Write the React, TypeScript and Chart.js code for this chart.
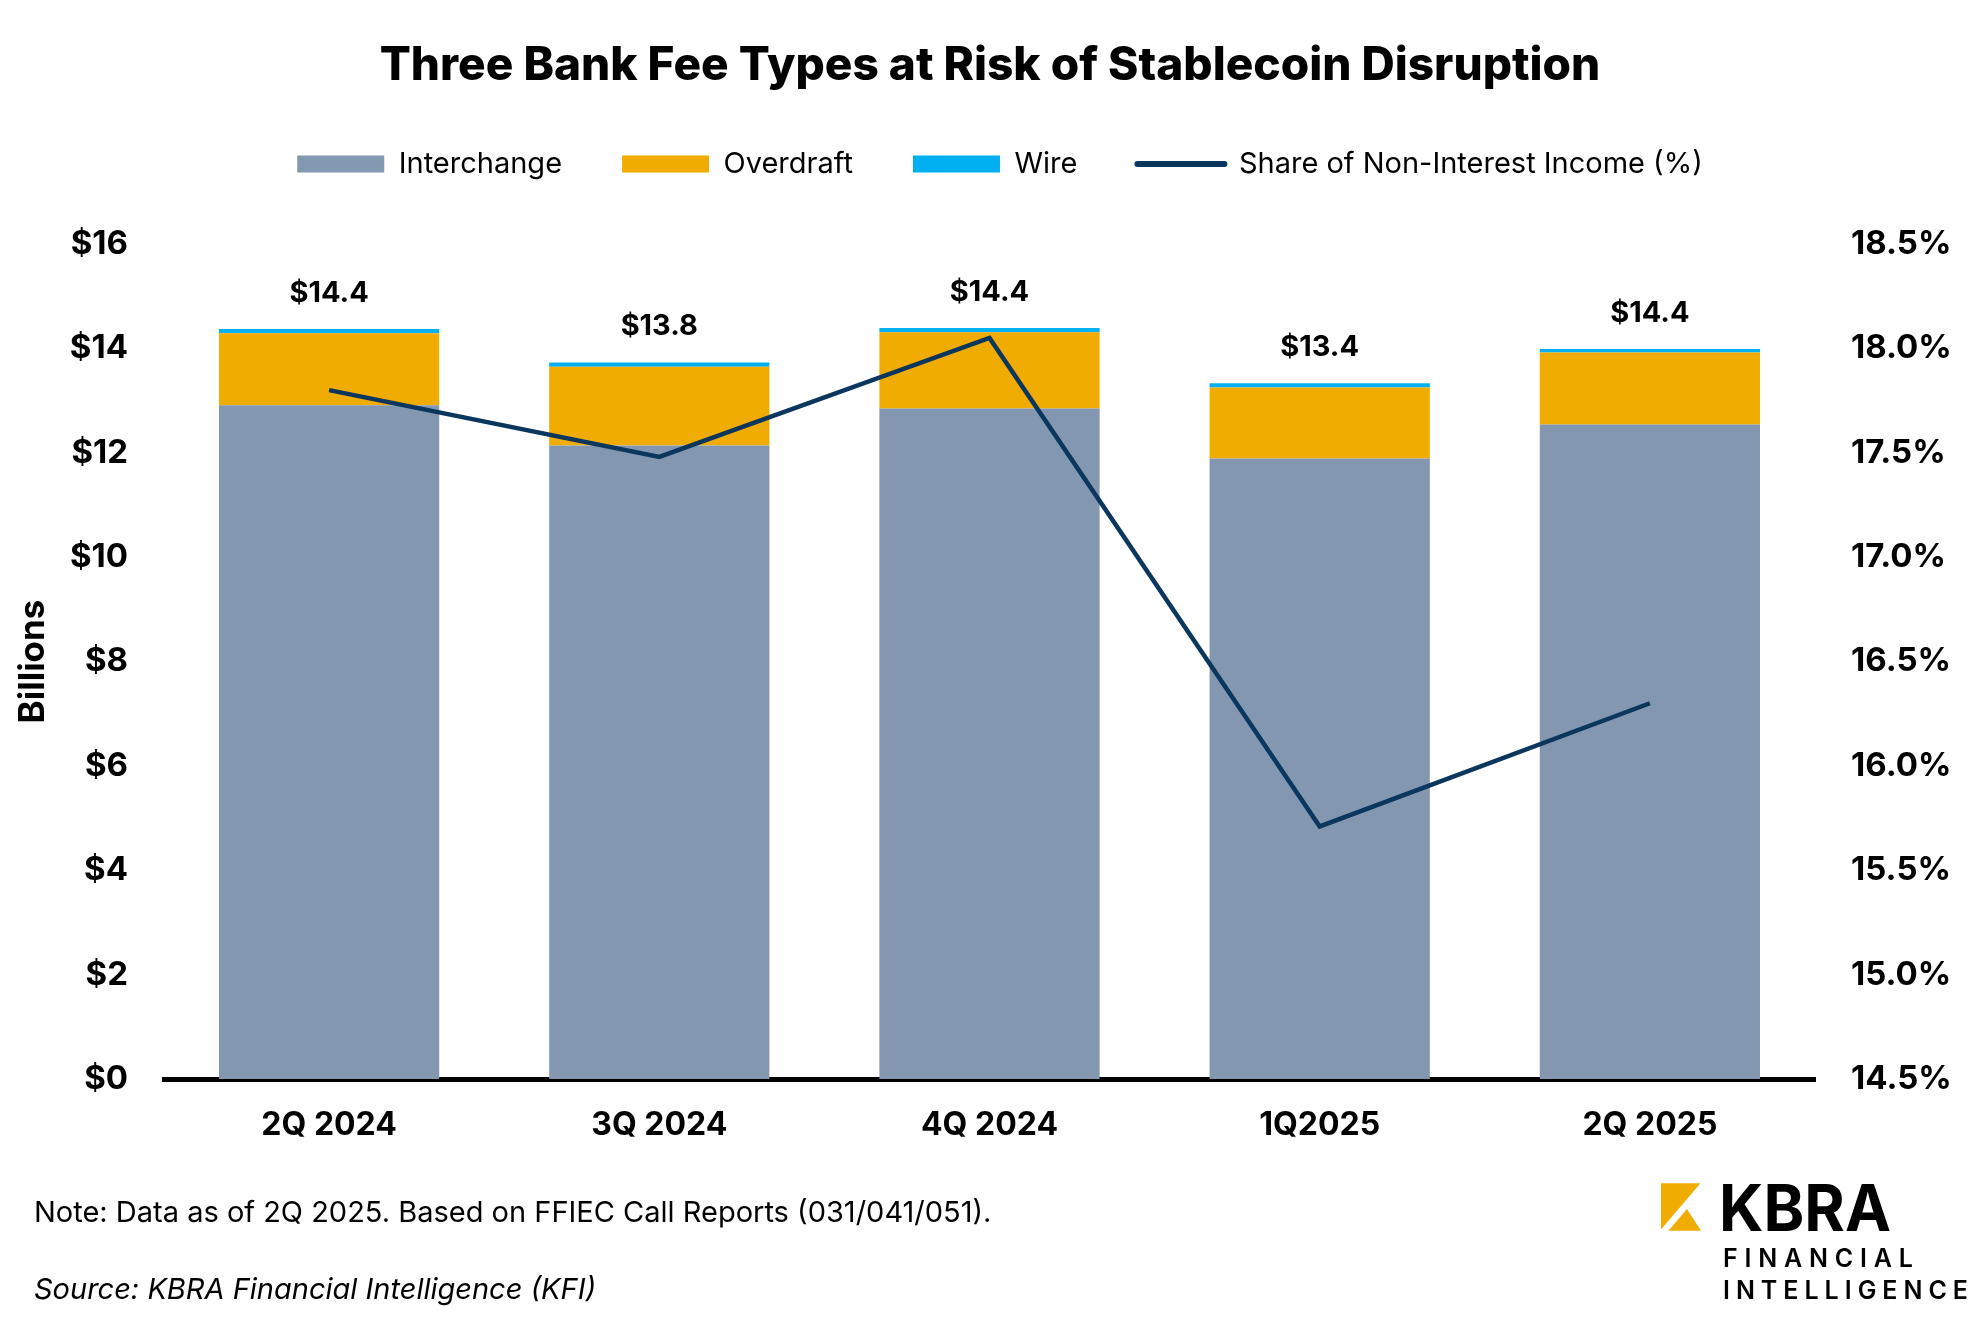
import React, { useEffect, useRef } from "react";
import { Chart, registerables } from "chart.js";

Chart.register(...registerables);

const categories = ["2Q 2024", "3Q 2024", "4Q 2024", "1Q2025", "2Q 2025"];
const interchange = [12.91, 12.14, 12.85, 11.89, 12.54];
const overdraft = [1.38, 1.51, 1.46, 1.36, 1.38];
const wire = [0.08, 0.08, 0.08, 0.08, 0.07];
const shareNonInterest = [17.8, 17.48, 18.05, 15.71, 16.3];
const totalLabels = ["$14.4", "$13.8", "$14.4", "$13.4", "$14.4"];

const seriesNames = ["Interchange", "Overdraft", "Wire", "Share of Non-Interest Income (%)"];
const colors = ["#8497B0", "#F0AC00", "#00B0F0", "#0B365E"];

const FONT = "Inter, 'Open Sans', sans-serif";

const totalsPlugin = {
  id: "totals",
  afterLayout(chart: any) {
    const l = chart.legend;
    if (l) {
      l.left += 10;
      l.right += 10;
    }
  },
  afterDatasetsDraw(chart: any) {
    const meta = chart.getDatasetMeta(2);
    const ctx = chart.ctx;
    ctx.save();
    ctx.font = `bold 29px ${FONT}`;
    ctx.fillStyle = "#000";
    ctx.textAlign = "center";
    ctx.textBaseline = "middle";
    meta.data.forEach((el: any, i: number) => {
      ctx.fillText(totalLabels[i], el.x, el.y - 36);
    });
    ctx.restore();
  },
};

function KbraChart() {
  const ref = useRef<HTMLCanvasElement | null>(null);
  useEffect(() => {
    if (!ref.current) return;
    Chart.defaults.font.family = FONT;
    Chart.defaults.color = "#000";
    const chart = new Chart(ref.current, {
      type: "bar",
      data: {
        labels: categories,
        datasets: [
          { type: "bar", label: seriesNames[0], data: interchange, backgroundColor: colors[0], stack: "s", order: 1, yAxisID: "y" },
          { type: "bar", label: seriesNames[1], data: overdraft, backgroundColor: colors[1], stack: "s", order: 1, yAxisID: "y" },
          { type: "bar", label: seriesNames[2], data: wire, backgroundColor: colors[2], stack: "s", order: 1, yAxisID: "y" },
          {
            type: "line",
            label: seriesNames[3],
            data: shareNonInterest,
            borderColor: colors[3],
            backgroundColor: colors[3],
            borderWidth: 4.5,
            pointRadius: 0,
            tension: 0,
            order: 0,
            yAxisID: "y1",
          },
        ],
      } as any,
      options: {
        responsive: false,
        animation: false,
        devicePixelRatio: 1,
        layout: { padding: { top: 43, left: 0, right: 0, bottom: 0 } },
        datasets: { bar: { barPercentage: 0.667, categoryPercentage: 1 } } as any,
        plugins: {
          tooltip: { enabled: false },
          title: {
            display: true,
            text: "Three Bank Fee Types at Risk of Stablecoin Disruption",
            color: "#000",
            font: { size: 46, weight: 800, lineHeight: 1 },
            padding: { top: 0, bottom: 0.5 },
          },
          legend: {
            display: true,
            position: "top",
            labels: {
              usePointStyle: true,
              pointStyleWidth: 87,
              boxHeight: 17,
              padding: 60,
              color: "#000",
              font: { size: 29 },
              generateLabels: (c: any) =>
                c.data.datasets.map((ds: any, i: number) => ({
                  text: ds.label,
                  fillStyle: ds.type === "line" ? ds.borderColor : ds.backgroundColor,
                  strokeStyle: ds.type === "line" ? ds.borderColor : ds.backgroundColor,
                  lineWidth: ds.type === "line" ? 6 : 0,
                  lineCap: "round",
                  pointStyle: ds.type === "line" ? "line" : "rect",
                  datasetIndex: i,
                  hidden: false,
                })),
            },
          },
          subtitle: {
            display: true,
            text: "",
            weight: 500,
            font: { size: 10, lineHeight: 1 },
            padding: { top: 45.5, bottom: 0 },
          } as any,
        },
        scales: {
          x: {
            grid: { display: false, drawTicks: false },
            border: { display: true, color: "#000", width: 5 },
            ticks: { padding: 27, color: "#000", font: { size: 32, weight: "bold" } },
            afterFit: (s: any) => {
              s.height = 241;
            },
          },
          y: {
            position: "left",
            min: 0,
            max: 16,
            grid: { display: false, drawTicks: false },
            border: { display: false },
            ticks: {
              stepSize: 2,
              padding: 36,
              color: "#000",
              font: { size: 33, weight: "bold" },
              callback: (v: any) => "$" + v,
            },
            title: {
              display: true,
              text: "Billions",
              color: "#000",
              font: { size: 35, weight: "bold" },
              padding: { top: 12, bottom: 0 },
            },
            afterFit: (s: any) => {
              s.width = 164;
            },
          },
          y1: {
            position: "right",
            min: 14.5,
            max: 18.5,
            grid: { display: false, drawTicks: false },
            border: { display: false },
            ticks: {
              stepSize: 0.5,
              padding: 36,
              color: "#000",
              font: { size: 33, weight: "bold" },
              callback: (v: any) => Number(v).toFixed(1) + "%",
            },
            afterFit: (s: any) => {
              s.width = 165;
            },
          },
        },
      } as any,
      plugins: [totalsPlugin],
    });
    return () => chart.destroy();
  }, []);
  return <canvas ref={ref} width={1980} height={1320} style={{ width: 1980, height: 1320, display: "block" }} />;
}

export default function App() {
  return (
    <div style={{ position: "absolute", left: 0, top: 0, width: 1980, height: 1320, background: "#fff", overflow: "hidden" }}>
      <KbraChart />
      <svg width={1980} height={1320} style={{ position: "absolute", left: 0, top: 0, pointerEvents: "none" }}>
        <text x={34} y={1222} fontFamily={FONT} fontSize={29} fill="#000">
          Note: Data as of 2Q 2025. Based on FFIEC Call Reports (031/041/051).
        </text>
        <text x={34} y={1298.5} fontFamily={FONT} fontSize={29} fontStyle="italic" fill="#000">
          Source: KBRA Financial Intelligence (KFI)
        </text>
        <polygon points="1661,1183.3 1700.5,1183.3 1661,1229.5" fill="#F0AC00" />
        <polygon points="1687,1209 1701,1230.7 1668.5,1230.7" fill="#F0AC00" />
        <text x={1719} y={1230.5} fontFamily={FONT} fontSize={64} fontWeight="bold" fill="#000" textLength={172} lengthAdjust="spacingAndGlyphs">
          KBRA
        </text>
        <text x={1723} y={1267} fontFamily={FONT} fontSize={25} fontWeight={600} fill="#000" textLength={190} lengthAdjust="spacing">
          FINANCIAL
        </text>
        <text x={1723} y={1299} fontFamily={FONT} fontSize={25} fontWeight={600} fill="#000" textLength={245} lengthAdjust="spacing">
          INTELLIGENCE
        </text>
      </svg>
    </div>
  );
}
